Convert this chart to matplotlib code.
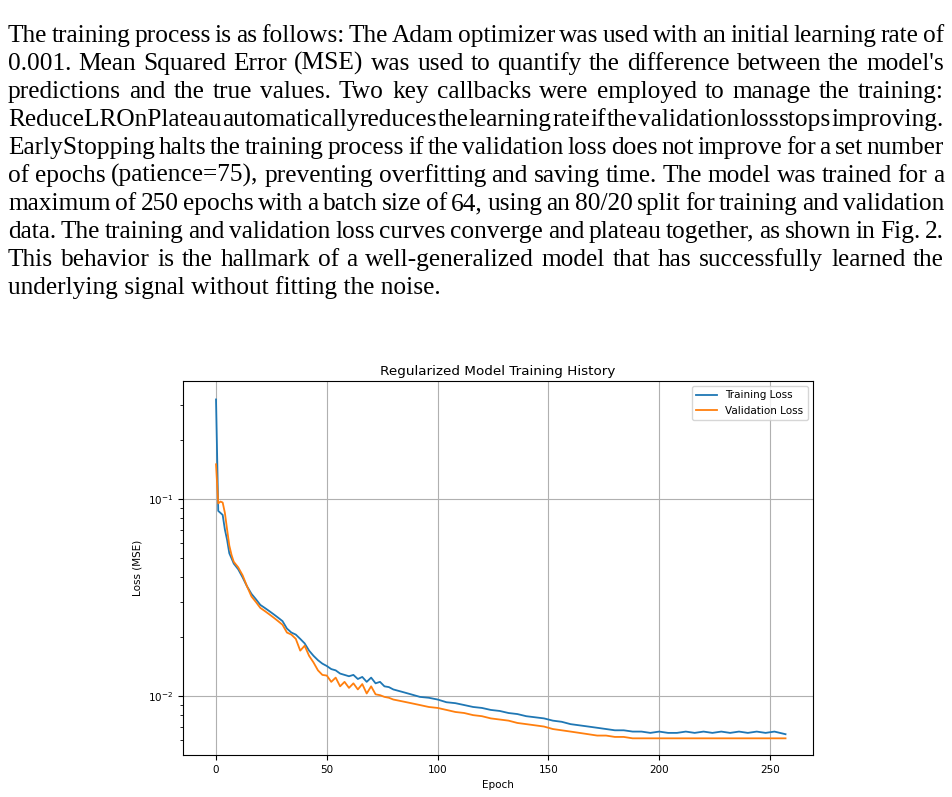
import matplotlib
matplotlib.use("Agg")
import matplotlib.pyplot as plt

paragraph_lines = [
    "The training process is as follows: The Adam optimizer was used with an initial learning rate of",
    "0.001. Mean Squared Error (MSE) was used to quantify the difference between the model's",
    "predictions and the true values. Two key callbacks were employed to manage the training:",
    "ReduceLROnPlateau automatically reduces the learning rate if the validation loss stops improving.",
    "EarlyStopping halts the training process if the validation loss does not improve for a set number",
    "of epochs (patience=75), preventing overfitting and saving time. The model was trained for a",
    "maximum of 250 epochs with a batch size of 64, using an 80/20 split for training and validation",
    "data. The training and validation loss curves converge and plateau together, as shown in Fig. 2.",
    "This behavior is the hallmark of a well-generalized model that has successfully learned the",
    "underlying signal without fitting the noise.",
]

epochs = [0,1,2,3,4,5,6,7,8,10,12,14,16,18,20,22,24,26,28,30,32,34,36,38,40,42,44,46,48,50,
          52,54,56,58,60,62,64,66,68,70,72,74,76,78,80,84,88,92,96,100,104,108,112,116,120,
          124,128,132,136,140,144,148,152,156,160,164,168,172,176,180,184,188,192,196,200,
          204,208,212,216,220,224,228,232,236,240,244,248,252,257]
train_loss = [0.32,0.087,0.085,0.083,0.07,0.062,0.053,0.05,0.047,0.044,0.04,0.036,0.033,0.031,
              0.029,0.028,0.027,0.026,0.025,0.024,0.022,0.021,0.0205,0.0195,0.0185,0.017,0.016,
              0.0152,0.0146,0.0142,0.0137,0.0135,0.013,0.0128,0.0126,0.0128,0.0122,0.0125,0.0118,
              0.0124,0.0116,0.0118,0.0112,0.0111,0.0108,0.0105,0.0102,0.0099,0.0098,0.0096,0.0093,
              0.0092,0.0090,0.0088,0.0087,0.0085,0.0084,0.0082,0.0081,0.0079,0.0078,0.0077,0.0075,
              0.0074,0.0072,0.0071,0.0070,0.0069,0.0068,0.0067,0.0067,0.0066,0.0066,0.0065,0.0066,
              0.0065,0.0065,0.0066,0.0065,0.0066,0.0065,0.0066,0.0065,0.0066,0.0065,0.0066,0.0065,
              0.0066,0.0064]
val_loss = [0.15,0.095,0.097,0.096,0.085,0.07,0.058,0.052,0.048,0.045,0.041,0.036,0.032,0.030,
            0.028,0.027,0.026,0.025,0.024,0.023,0.021,0.0205,0.0195,0.017,0.018,0.016,0.0148,
            0.0135,0.0128,0.0127,0.0118,0.0124,0.0112,0.0118,0.011,0.0116,0.0108,0.0115,0.0103,
            0.0112,0.0102,0.0101,0.0099,0.0098,0.0096,0.0094,0.0092,0.0090,0.0088,0.0087,0.0085,
            0.0083,0.0082,0.0080,0.0079,0.0077,0.0076,0.0075,0.0073,0.0072,0.0071,0.0070,0.0068,
            0.0067,0.0066,0.0065,0.0064,0.0063,0.0063,0.0062,0.0062,0.0061,0.0061,0.0061,0.0061,
            0.0061,0.0061,0.0061,0.0061,0.0061,0.0061,0.0061,0.0061,0.0061,0.0061,0.0061,0.0061,
            0.0061,0.0061]

W, H = 952, 797
fig = plt.figure(figsize=(W/100, H/100), dpi=100)
fig.patch.set_facecolor("white")
renderer = fig.canvas.get_renderer()

font = dict(family="Liberation Serif", size=18.3)
left, right = 8, 944
y0, dy = 42, 28
for i, line in enumerate(paragraph_lines):
    y = 1 - (y0 + i*dy)/H
    words = line.split(" ")
    if i == len(paragraph_lines) - 1:
        fig.text(left/W, y, line, va="baseline", ha="left", **font)
        continue
    widths = []
    for w in words:
        t = fig.text(0, 0, w, **font)
        widths.append(t.get_window_extent(renderer).width)
        t.remove()
    gap = (right - left - sum(widths)) / (len(words) - 1)
    x = left
    for w, wd in zip(words, widths):
        fig.text(x/W, y, w, va="baseline", ha="left", **font)
        x += wd + gap

ax = fig.add_axes([183/W, 1-755/H, (813-183)/W, (755-381)/H])
ax.plot(epochs, train_loss, color="#1f77b4", lw=1.3, label="Training Loss")
ax.plot(epochs, val_loss, color="#ff7f0e", lw=1.3, label="Validation Loss")
ax.set_yscale("log")
ax.set_xlim(-14.9, 269.4)
ax.set_ylim(0.00502, 0.397)
ax.grid(True, which="major", color="#b0b0b0", lw=0.8)
ax.set_title("Regularized Model Training History", fontsize=9.7, pad=4)
ax.set_xlabel("Epoch", fontsize=7.5)
ax.set_ylabel("Loss (MSE)", fontsize=7.5)
ax.tick_params(labelsize=7.5)
ax.legend(fontsize=7.5, loc="upper right")
fig.savefig("out.png", dpi=100)
